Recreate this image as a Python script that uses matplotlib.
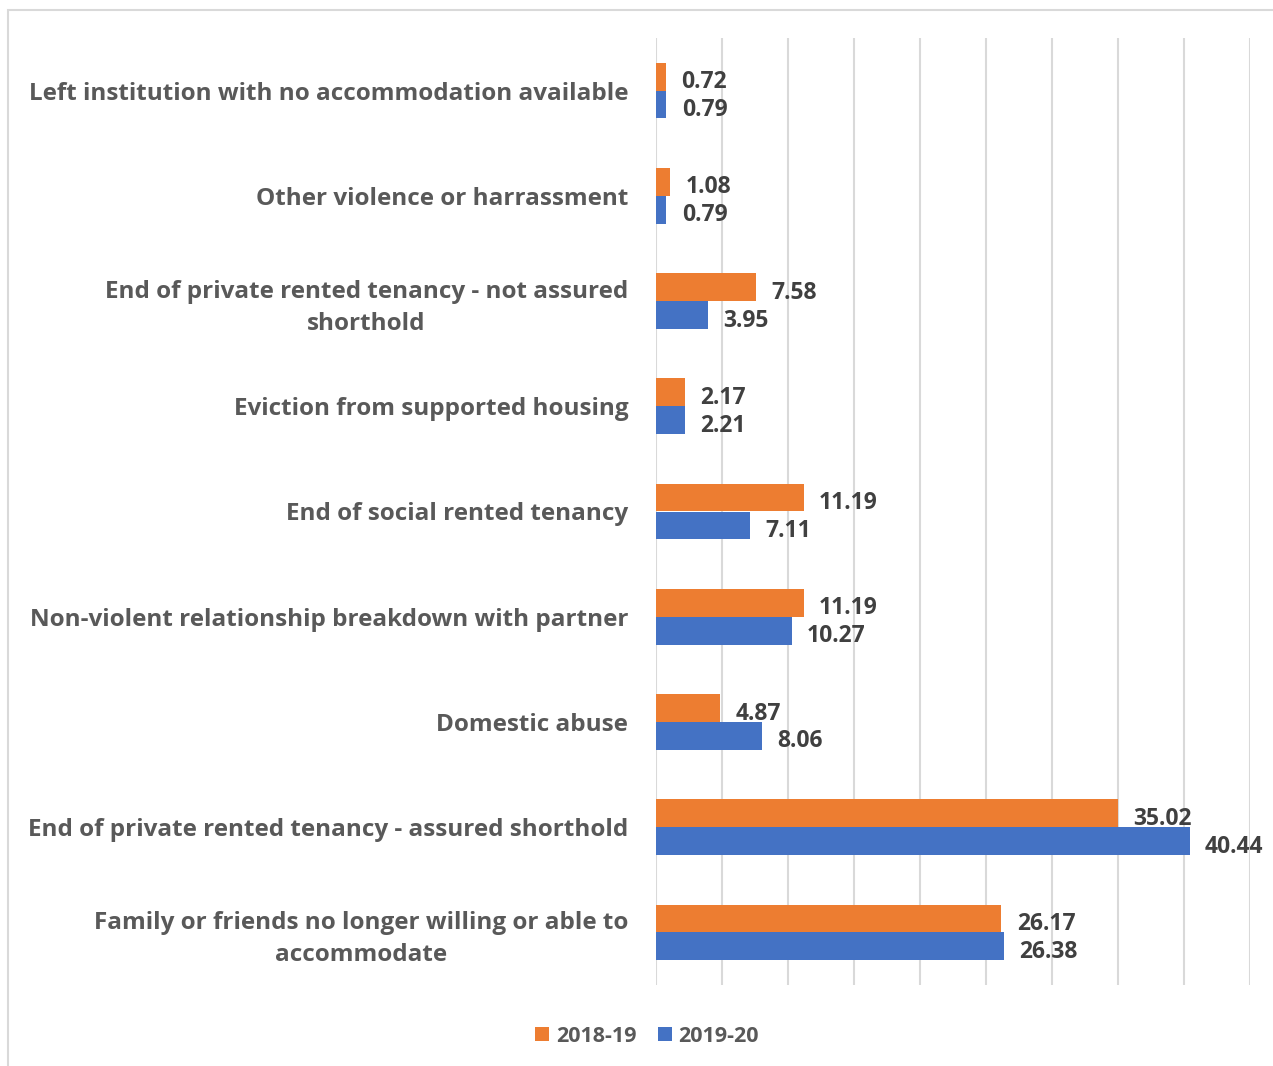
import numpy as np
import matplotlib.pyplot as plt
from matplotlib.patches import Rectangle

categories = [
    "Left institution with no accommodation available",
    "Other violence or harrassment",
    "End of private rented tenancy - not assured\nshorthold",
    "Eviction from supported housing",
    "End of social rented tenancy",
    "Non-violent relationship breakdown with partner",
    "Domestic abuse",
    "End of private rented tenancy - assured shorthold",
    "Family or friends no longer willing or able to\naccommodate",
]
vals_1819 = [0.72, 1.08, 7.58, 2.17, 11.19, 11.19, 4.87, 35.02, 26.17]
vals_1920 = [0.79, 0.79, 3.95, 2.21, 7.11, 10.27, 8.06, 40.44, 26.38]
series_names = ["2018-19", "2019-20"]

orange = "#ED7D31"
blue = "#4472C4"
label_grey = "#595959"
value_grey = "#404040"

plt.rcParams["font.family"] = ["Open Sans", "DejaVu Sans"]

fig = plt.figure(figsize=(12.73, 10.66), dpi=100)
W, H = 1273, 1066
ax = fig.add_axes([656 / W, 1 - 985 / H, (1250 - 656) / W, (985 - 38) / H])

y = np.arange(len(categories))
h = 0.265
b1 = ax.barh(y - h / 2, vals_1819, height=h, color=orange, label=series_names[0])
b2 = ax.barh(y + h / 2, vals_1920, height=h, color=blue, label=series_names[1])

for bars, vals in ((b1, vals_1819), (b2, vals_1920)):
    for rect, v in zip(bars, vals):
        ax.annotate(f"{v:.2f}", (rect.get_width(), rect.get_y() + rect.get_height() / 2),
                    xytext=(11, -4), textcoords="offset points", ha="left", va="center",
                    fontsize=16.5, fontweight="bold", color=value_grey)

ax.set_xlim(0, 45)
ax.set_ylim(len(categories) - 0.5, -0.5)
ax.set_xticks(np.arange(0, 46, 5))
ax.xaxis.grid(True, color="#d9d9d9", linewidth=1.5)
ax.set_axisbelow(True)
ax.tick_params(axis="x", length=0, labelbottom=False)
ax.tick_params(axis="y", length=0, pad=20)
ax.set_yticks(y)
ax.set_yticklabels(categories, fontsize=17.5, fontweight="bold", color=label_grey,
                   multialignment="center", linespacing=1.45)
for s in ax.spines.values():
    s.set_visible(False)

leg = fig.legend(handles=[b1, b2], labels=series_names, loc="center",
                 bbox_to_anchor=(647 / W, 1 - 1036 / H), ncol=2, frameon=False,
                 handlelength=0.65, handleheight=0.65, handletextpad=0.3, columnspacing=1.0,
                 prop={"size": 15.5, "weight": "bold"})
for t in leg.get_texts():
    t.set_color(label_grey)

# chart frame
fig.patches.append(Rectangle((8 / W, -0.01), 1.1, 1 - 10 / H + 0.01, transform=fig.transFigure,
                             fill=False, edgecolor="#d9d9d9", linewidth=1.5))

fig.savefig("out.png", dpi=100, facecolor="white")
